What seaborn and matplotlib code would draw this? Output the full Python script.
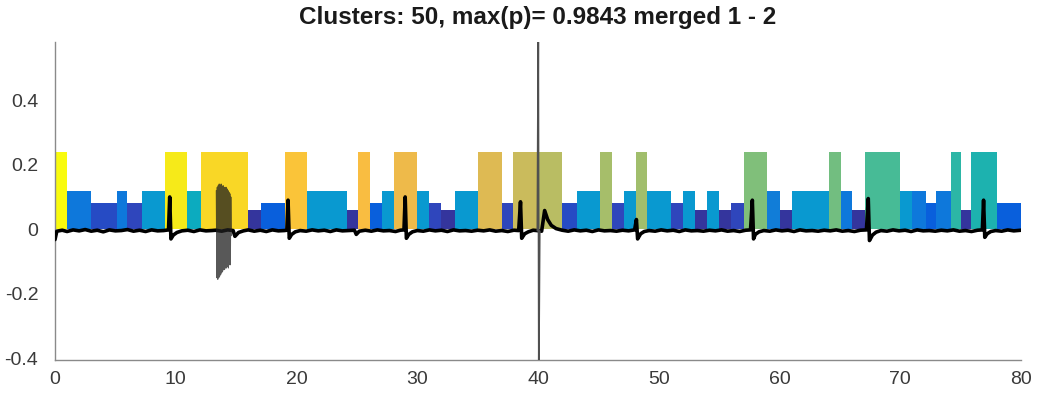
import numpy as np
import matplotlib
matplotlib.use("Agg")
import matplotlib.pyplot as plt
from matplotlib.colors import LinearSegmentedColormap
import seaborn as sns

# ---- cluster segments: start, end, height, colour level (0..1 on parula) ----
seg_start = [0.0, 1.0, 3.0, 5.1, 6.0, 7.2, 9.1, 10.9, 12.1,
             16.0, 17.1, 19.05, 20.9, 24.2, 25.1,
             26.1, 27.1, 28.1, 30.0, 31.0, 32.0, 33.1, 35.0, 37.0, 37.9, 40.0,
             42.0, 43.2, 45.1, 46.1, 47.1, 48.1, 49.0, 51.0, 52.0,
             53.0, 54.0, 55.0, 56.0, 57.1, 59.0, 60.0, 61.0, 64.1, 65.1,
             66.0, 67.1, 70.0, 71.0, 72.1, 73.0, 74.2, 75.0, 75.9, 78.0]
seg_end = [1.0, 3.0, 5.1, 6.0, 7.2, 9.1, 10.9, 12.1, 16.0,
           17.1, 19.05, 20.9, 24.2, 25.1, 26.1,
           27.1, 28.1, 30.0, 31.0, 32.0, 33.1, 35.0, 37.0, 37.9, 40.0, 42.0,
           43.2, 45.1, 46.1, 47.1, 48.1, 49.0, 51.0, 52.0, 53.0,
           54.0, 55.0, 56.0, 57.1, 59.0, 60.0, 61.0, 64.1, 65.1, 66.0,
           67.1, 70.0, 71.0, 72.1, 73.0, 74.2, 75.0, 75.9, 78.0, 80.0]
seg_height = [0.24, 0.12, 0.08, 0.12, 0.08, 0.12, 0.24, 0.12, 0.24,
              0.06, 0.08, 0.24, 0.12, 0.06, 0.24,
              0.08, 0.12, 0.24, 0.12, 0.08, 0.06, 0.12, 0.24, 0.08, 0.24, 0.24,
              0.08, 0.12, 0.24, 0.08, 0.12, 0.24, 0.12, 0.08, 0.12,
              0.06, 0.12, 0.06, 0.08, 0.24, 0.12, 0.06, 0.12, 0.24, 0.12,
              0.06, 0.24, 0.12, 0.12, 0.08, 0.12, 0.24, 0.06, 0.24, 0.08]
seg_level = [1.00, 0.20, 0.08, 0.20, 0.07, 0.32, 0.95, 0.40, 0.90,
             0.03, 0.12, 0.84, 0.32, 0.03, 0.82,
             0.12, 0.32, 0.79, 0.32, 0.07, 0.03, 0.32, 0.76, 0.07, 0.72, 0.69,
             0.08, 0.32, 0.66, 0.07, 0.32, 0.65, 0.32, 0.07, 0.32,
             0.03, 0.32, 0.03, 0.07, 0.60, 0.22, 0.03, 0.32, 0.58, 0.20,
             0.03, 0.52, 0.32, 0.20, 0.12, 0.20, 0.48, 0.03, 0.45, 0.12]

# ---- recorded signal (continuous trace) ----
trace_x = [0.00, 0.15, 0.6, 1.0, 1.5, 2.0, 2.5, 3.0, 3.5, 4.0, 4.5, 5.0, 5.5, 6.0,
           6.5, 7.0, 7.5, 8.0, 8.5, 9.0, 9.4, 9.5, 9.6, 9.8, 10.1, 10.5, 11.0,
           11.5, 12.0, 12.5, 13.0, 13.3, 13.8, 14.3, 14.75, 14.9, 15.2, 15.6,
           16.0, 16.5, 17.0, 17.5, 18.0, 18.5, 19.0, 19.2, 19.3, 19.4, 19.6,
           19.9, 20.3, 20.8, 21.3, 21.8, 22.3, 22.8, 23.3, 23.8, 24.3, 24.8,
           24.95, 25.2, 25.7, 26.2, 26.7, 27.2, 27.7, 28.2, 28.6, 28.9, 29.0,
           29.1, 29.3, 29.6, 30.0, 30.5, 31.0, 31.5, 32.0, 32.5, 33.0, 33.5,
           34.0, 34.5, 35.0, 35.5, 36.0, 36.5, 37.0, 37.5, 38.0, 38.4, 38.55,
           38.65, 38.9, 39.2, 39.6, 39.9, 40.3, 40.55, 40.8, 41.1, 41.5, 42.0,
           42.5, 43.0, 43.5, 44.0, 44.5, 45.0, 45.5, 46.0, 46.5, 47.0, 47.5,
           48.0, 48.15, 48.25, 48.5, 48.8, 49.2, 49.7, 50.2, 50.7, 51.2, 51.7,
           52.2, 52.7, 53.2, 53.7, 54.2, 54.7, 55.2, 55.7, 56.2, 56.7, 57.2,
           57.6, 57.75, 57.85, 58.0, 58.3, 58.7, 59.2, 59.7, 60.2, 60.7, 61.2,
           61.7, 62.2, 62.7, 63.2, 63.7, 64.2, 64.7, 65.2, 65.7, 66.2, 66.7,
           67.2, 67.35, 67.45, 67.7, 68.0, 68.4, 68.9, 69.4, 69.9, 70.4, 70.9,
           71.4, 71.9, 72.4, 72.9, 73.4, 73.9, 74.4, 74.9, 75.4, 75.9, 76.4,
           76.8, 76.9, 77.0, 77.2, 77.5, 77.9, 78.4, 78.9, 79.4, 80.0]
trace_y = [-0.032, -0.006, -0.003, -0.007, -0.002, -0.005, -0.001, -0.006,
           -0.003, -0.008, -0.002, -0.005, -0.004, -0.001, -0.006, -0.003,
           -0.007, -0.002, -0.005, -0.004, -0.002, 0.100, -0.030, -0.018,
           -0.010, -0.005, -0.003, -0.007, -0.002, -0.005, -0.004, -0.003,
           -0.006, -0.002, -0.004, -0.022, -0.010, -0.005, -0.002, -0.006,
           -0.003, -0.007, -0.002, -0.005, -0.004, -0.003, 0.090, -0.028,
           -0.016, -0.008, -0.004, -0.006, -0.002, -0.005, -0.003, -0.007,
           -0.002, -0.005, -0.004, -0.003, -0.016, -0.006, -0.003, -0.006,
           -0.002, -0.005, -0.004, -0.007, -0.003, -0.002, 0.100, -0.028,
           -0.016, -0.008, -0.004, -0.006, -0.002, -0.005, -0.003, -0.007,
           -0.002, -0.005, -0.004, -0.006, -0.003, -0.005, -0.002, -0.006,
           -0.004, -0.007, -0.003, -0.004, 0.085, -0.028, -0.014, -0.008,
           -0.003, -0.004, -0.006, 0.058, 0.030, 0.012, 0.002, -0.003,
           -0.006, -0.002, -0.005, -0.003, -0.007, -0.002, -0.005, -0.004,
           -0.006, -0.003, -0.005, -0.002, 0.030, -0.030, -0.014, -0.007,
           -0.004, -0.006, -0.002, -0.005, -0.003, -0.007, -0.002, -0.005,
           -0.004, -0.006, -0.003, -0.005, -0.002, -0.006, -0.004, -0.007,
           -0.003, -0.002, 0.090, -0.030, -0.016, -0.008, -0.004, -0.006,
           -0.002, -0.005, -0.003, -0.007, -0.002, -0.005, -0.004, -0.006,
           -0.003, -0.005, -0.002, -0.006, -0.004, -0.007, -0.003, -0.002,
           0.095, -0.035, -0.018, -0.009, -0.004, -0.006, -0.002, -0.005,
           -0.003, -0.007, -0.002, -0.005, -0.004, -0.006, -0.003, -0.005,
           -0.002, -0.006, -0.004, -0.007, -0.003, -0.002, 0.090, -0.025,
           -0.014, -0.007, -0.004, -0.006, -0.002, -0.005, -0.003]

# dense burst around 13-14.6
burst_x = [13.36, 13.40, 13.44, 13.48, 13.52, 13.56, 13.60, 13.64, 13.68,
           13.72, 13.76, 13.80, 13.84, 13.88, 13.92, 13.96, 14.00, 14.04,
           14.08, 14.12, 14.16, 14.20, 14.24, 14.28, 14.32, 14.36, 14.40,
           14.44, 14.48, 14.52, 14.56, 14.60]
burst_y = [0.120, -0.150, 0.130, -0.155, 0.135, -0.150, 0.140, -0.145,
           0.135, -0.140, 0.140, -0.135, 0.130, -0.130, 0.135, -0.125,
           0.130, -0.125, 0.125, -0.120, 0.130, -0.120, 0.125, -0.115,
           0.120, -0.120, 0.115, -0.110, 0.110, -0.110, 0.100, -0.020]

# large transient near 40
spike_x = [39.95, 40.02, 40.07, 40.14]
spike_y = [-0.004, 0.58, -0.405, -0.006]

title_text = "Clusters: 50, max(p)= 0.9843 merged 1 - 2"
xticks = [0, 10, 20, 30, 40, 50, 60, 70, 80]
yticks = [-0.4, -0.2, 0, 0.2, 0.4]
ytick_labels = ["-0.4", "-0.2", "0", "0.2", "0.4"]

# ---- parula colour map ----
parula_stops = [
    (0.2081, 0.1663, 0.5292), (0.1959, 0.2645, 0.7279), (0.0117, 0.3875, 0.8820),
    (0.0498, 0.4586, 0.8641), (0.0793, 0.5200, 0.8312), (0.0343, 0.5966, 0.8199),
    (0.0228, 0.6535, 0.7768), (0.0843, 0.6928, 0.7062), (0.2178, 0.7250, 0.6193),
    (0.3953, 0.7459, 0.5244), (0.5709, 0.7485, 0.4494), (0.7184, 0.7411, 0.3905),
    (0.8507, 0.7299, 0.3360), (0.9739, 0.7314, 0.2666), (0.9880, 0.8066, 0.1794),
    (0.9589, 0.8949, 0.1132), (0.9763, 0.9831, 0.0538)]
parula = LinearSegmentedColormap.from_list("parula", parula_stops)

sns.set_theme(style="white")
plt.rcParams["font.family"] = ["Liberation Sans", "DejaVu Sans"]

fig = plt.figure(figsize=(10.42, 4.0), dpi=100)
ax = fig.add_axes([55 / 1042, 1 - 360 / 400, (1021 - 55) / 1042, (360 - 42) / 400])

starts = np.array(seg_start)
widths = np.array(seg_end) - starts
ax.bar(starts, seg_height, width=widths, align="edge",
       color=[parula(v) for v in seg_level], edgecolor="none", linewidth=0, zorder=1)

sns.lineplot(x=trace_x, y=trace_y, ax=ax, color="black", linewidth=2.6,
             sort=False, estimator=None, zorder=3)
sns.lineplot(x=burst_x, y=burst_y, ax=ax, color="#202020", linewidth=0.8,
             alpha=0.75, sort=False, estimator=None, zorder=3)
sns.lineplot(x=spike_x, y=spike_y, ax=ax, color="#505050", linewidth=1.3,
             sort=False, estimator=None, zorder=4)

ax.set_xlim(0, 80)
ax.set_ylim(-0.405, 0.58)
ax.set_xticks(xticks)
ax.set_xticklabels([str(t) for t in xticks])
ax.set_yticks(yticks)
ax.set_yticklabels(ytick_labels)

for side in ("top", "right"):
    ax.spines[side].set_visible(False)
for side in ("left", "bottom"):
    ax.spines[side].set_color("#8a8a8a")
    ax.spines[side].set_linewidth(1.0)

ax.tick_params(axis="both", direction="in", length=5, width=0.9, color="#8a8a8a",
               labelsize=14, labelcolor="#3a3a3a", pad=8)
ax.tick_params(axis="y", pad=12)

ax.set_title(title_text, fontsize=17.5, fontweight="bold", color="#1a1a1a", pad=13)

fig.savefig("out.png", dpi=100)
